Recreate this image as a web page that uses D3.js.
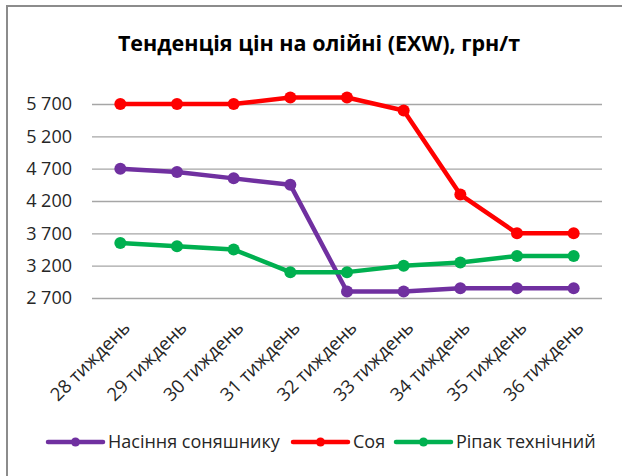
<!DOCTYPE html>
<html>
<head>
<meta charset="utf-8">
<script src="https://cdn.jsdelivr.net/npm/d3@7"></script>
<style>
  body { margin: 0; background: #fff; }
  svg { display: block; font-family: "Open Sans", sans-serif; }
</style>
</head>
<body>
<svg id="chart" width="622" height="476"></svg>
<script>
const weeks = ["28 тиждень", "29 тиждень", "30 тиждень", "31 тиждень", "32 тиждень",
  "33 тиждень", "34 тиждень", "35 тиждень", "36 тиждень"];
const sunflower = [4700, 4650, 4550, 4450, 2800, 2800, 2850, 2850, 2850];
const soy = [5700, 5700, 5700, 5800, 5800, 5600, 4300, 3700, 3700];
const rapeseed = [3550, 3500, 3450, 3100, 3100, 3200, 3250, 3350, 3350];
const yTicks = [2700, 3200, 3700, 4200, 4700, 5200, 5700];

const series = [
  { name: "Насіння соняшнику", values: sunflower, color: "#7030a0" },
  { name: "Соя", values: soy, color: "#ff0000" },
  { name: "Ріпак технічний", values: rapeseed, color: "#00b050" }
];

const svg = d3.select("#chart");

// frame (only left and top edges visible in the crop)
svg.append("path")
  .attr("d", "M7,476 V6 H622")
  .attr("fill", "none")
  .attr("stroke", "#8c8c8c")
  .attr("stroke-width", 2);

svg.append("text")
  .attr("x", 319)
  .attr("y", 51)
  .attr("text-anchor", "middle")
  .attr("font-size", 21.5)
  .attr("font-weight", "bold")
  .attr("fill", "#000")
  .text("Тенденція цін на олійні (EXW), грн/т");

const x = d3.scaleBand().domain(weeks).range([92, 602]);
const y = d3.scaleLinear().domain([2700, 5700]).range([298, 104]);
const cx = d => x(d) + x.bandwidth() / 2;

// gridlines + y labels
const yAxis = svg.append("g")
  .attr("transform", "translate(92,0)")
  .call(d3.axisLeft(y)
    .tickValues(yTicks)
    .tickSize(-510)
    .tickPadding(20)
    .tickFormat(d => d3.format(",")(d).replace(",", " ")));
yAxis.select(".domain").remove();
yAxis.selectAll(".tick line").attr("stroke", "#a6a6a6").attr("stroke-width", 1.3);
yAxis.selectAll(".tick text")
  .attr("font-size", 18)
  .attr("fill", "#262626")
  .attr("font-family", "Open Sans, sans-serif");

// x labels
svg.append("g")
  .selectAll("text")
  .data(weeks)
  .join("text")
  .attr("transform", d => `translate(${cx(d) + 11},329) rotate(-45)`)
  .attr("text-anchor", "end")
  .attr("font-size", 18.5)
  .attr("fill", "#262626")
  .text(d => d);

const line = d3.line()
  .x((d, i) => cx(weeks[i]))
  .y(d => y(d));

const sg = svg.append("g")
  .selectAll("g")
  .data(series)
  .join("g");

sg.append("path")
  .attr("d", d => line(d.values))
  .attr("fill", "none")
  .attr("stroke", d => d.color)
  .attr("stroke-width", 4.5)
  .attr("stroke-linejoin", "round");

sg.selectAll("circle")
  .data(d => d.values.map((v, i) => ({ v, i, color: d.color })))
  .join("circle")
  .attr("cx", d => cx(weeks[d.i]))
  .attr("cy", d => y(d.v))
  .attr("r", 6)
  .attr("fill", d => d.color);

// legend
const legendX = [48, 293, 396];
const lg = svg.append("g")
  .selectAll("g")
  .data(series)
  .join("g")
  .attr("transform", (d, i) => `translate(${legendX[i]},442)`);

lg.append("line")
  .attr("x1", 0).attr("x2", 55)
  .attr("stroke", d => d.color)
  .attr("stroke-width", 4.5)
  .attr("stroke-linecap", "round");
lg.append("circle")
  .attr("cx", 27.5)
  .attr("r", 4.5)
  .attr("fill", d => d.color);
lg.append("text")
  .attr("x", 60)
  .attr("dy", "0.35em")
  .attr("font-size", 18)
  .attr("fill", "#262626")
  .text(d => d.name);
</script>
</body>
</html>
